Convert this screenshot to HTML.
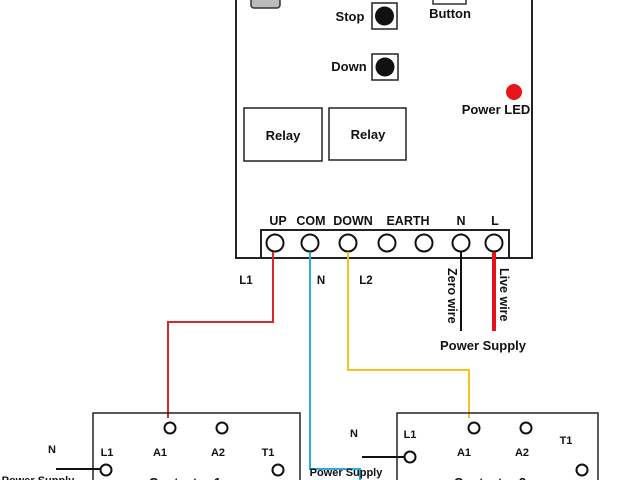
<!DOCTYPE html>
<html><head><style>
html,body{margin:0;padding:0;background:#fff;}
svg{display:block;}
text{font-family:"Liberation Sans",sans-serif;font-weight:bold;fill:#111;}
</style></head><body>
<svg width="640" height="480" viewBox="0 0 640 480" xmlns="http://www.w3.org/2000/svg">
<rect width="640" height="480" fill="#fff"/>
<!-- main box -->
<path d="M236,-2 V258 H532 V-2" fill="none" stroke="#222" stroke-width="2"/>
<rect x="251" y="-8" width="29" height="16" rx="3" fill="#bbb" stroke="#333" stroke-width="1.5"/>
<rect x="433" y="-6" width="33" height="10" fill="none" stroke="#333" stroke-width="1.5"/>
<text x="450" y="18" font-size="13" text-anchor="middle">Button</text>
<text x="350" y="21" font-size="13" text-anchor="middle">Stop</text>
<rect x="372" y="3" width="25" height="26" fill="none" stroke="#222" stroke-width="1.5"/>
<circle cx="384.5" cy="16" r="9.5" fill="#111"/>
<text x="349" y="71" font-size="13" text-anchor="middle">Down</text>
<rect x="372" y="54" width="26" height="26" fill="none" stroke="#222" stroke-width="1.5"/>
<circle cx="385" cy="67" r="9.5" fill="#111"/>
<circle cx="514" cy="92" r="8" fill="#e8141a"/>
<text x="496" y="114" font-size="13" text-anchor="middle">Power LED</text>
<rect x="244" y="108" width="78" height="53" fill="none" stroke="#222" stroke-width="1.5"/>
<text x="283" y="140" font-size="13" text-anchor="middle">Relay</text>
<rect x="329" y="108" width="77" height="52" fill="none" stroke="#222" stroke-width="1.5"/>
<text x="368" y="139" font-size="13" text-anchor="middle">Relay</text>
<!-- terminal -->
<rect x="261" y="230" width="248" height="28" fill="none" stroke="#222" stroke-width="2"/>
<g font-size="12.5" text-anchor="middle">
<text x="278" y="225">UP</text><text x="311" y="225">COM</text><text x="353" y="225">DOWN</text>
<text x="408" y="225">EARTH</text><text x="461" y="225">N</text><text x="495" y="225">L</text>
</g>
<g fill="none" stroke="#111" stroke-width="2">
<circle cx="275" cy="243" r="8.5"/><circle cx="310" cy="243" r="8.5"/><circle cx="348" cy="243" r="8.5"/>
<circle cx="387" cy="243" r="8.5"/><circle cx="424" cy="243" r="8.5"/><circle cx="461" cy="243" r="8.5"/>
<circle cx="494" cy="243" r="8.5"/>
</g>
<g font-size="11.5" text-anchor="middle">
<text x="246" y="284">L1</text><text x="321" y="284">N</text><text x="366" y="284">L2</text>
</g>
<!-- wires -->
<polyline points="273,252 273,322 168,322 168,418" fill="none" stroke="#d42a2a" stroke-width="2"/>
<polyline points="310,252 310,469 360,469 360,482" fill="none" stroke="#2aaee0" stroke-width="2"/>
<polyline points="348,252 348,370 469,370 469,418" fill="none" stroke="#f0c419" stroke-width="2"/>
<line x1="461" y1="252" x2="461" y2="331" stroke="#111" stroke-width="2"/>
<line x1="494" y1="252" x2="494" y2="331" stroke="#e3141a" stroke-width="4"/>
<text transform="translate(448,268) rotate(90)" font-size="12.5">Zero wire</text>
<text transform="translate(500,268) rotate(90)" font-size="12.5">Live wire</text>
<text x="483" y="350" font-size="13" text-anchor="middle">Power Supply</text>
<!-- contactor 1 -->
<rect x="93" y="413" width="207" height="80" fill="none" stroke="#222" stroke-width="1.5"/>
<g fill="none" stroke="#111" stroke-width="2">
<circle cx="170" cy="428" r="5.5"/><circle cx="222" cy="428" r="5.5"/>
<circle cx="278" cy="470" r="5.5"/><circle cx="106" cy="470" r="5.5"/>
<circle cx="474" cy="428" r="5.5"/><circle cx="526" cy="428" r="5.5"/>
<circle cx="582" cy="470" r="5.5"/><circle cx="410" cy="457" r="5.5"/>
</g>
<g font-size="11" text-anchor="middle">
<text x="107" y="456">L1</text><text x="160" y="456">A1</text><text x="218" y="456">A2</text><text x="268" y="456">T1</text>
<text x="52" y="453">N</text>
<text x="410" y="438">L1</text><text x="464" y="456">A1</text><text x="522" y="456">A2</text><text x="566" y="444">T1</text>
<text x="354" y="437">N</text>
</g>
<line x1="56" y1="469" x2="100" y2="469" stroke="#111" stroke-width="2"/>
<line x1="362" y1="457" x2="404" y2="457" stroke="#111" stroke-width="2"/>
<text x="38" y="484" font-size="11" text-anchor="middle">Power Supply</text>
<text x="185" y="487" font-size="13" text-anchor="middle">Contactor 1</text>
<rect x="397" y="413" width="201" height="80" fill="none" stroke="#222" stroke-width="1.5"/>
<text x="346" y="476" font-size="11" text-anchor="middle">Power Supply</text>
<text x="490" y="487" font-size="13" text-anchor="middle">Contactor 2</text>
</svg>
</body></html>
